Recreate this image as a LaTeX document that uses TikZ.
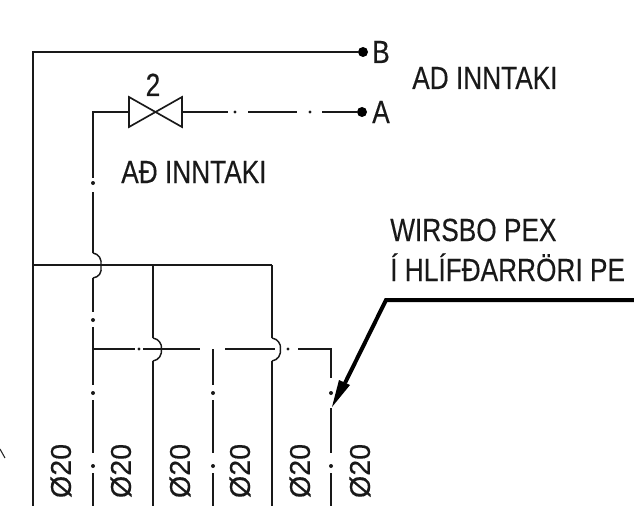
\documentclass[tikz,border=0pt]{standalone}
\usepackage{fontspec}
\usepackage{graphicx}
\setmainfont[FakeBold=0.3]{Liberation Sans}
\newcommand{\lbl}[1]{\scalebox{0.82}[1]{#1}}
\tikzset{
  pipe/.style={line width=1.25pt,black!90},
  jump/.style={line width=1.1pt,black!90},
  dotmark/.style={circle,fill=black!90,inner sep=0pt,minimum size=3pt},
  endpt/.style={circle,fill=black,inner sep=0pt,minimum size=7.5pt},
  txt/.style={inner sep=0pt,font=\fontsize{24}{28}\selectfont,text=black!90},
  dia/.style={inner sep=0pt,rotate=90,font=\fontsize{21.5}{24}\selectfont,text=black!90},
  valve/.style={line width=1.25pt,black!90,line join=miter},
  lead/.style={line width=3pt,black}
}
\begin{document}
\begin{tikzpicture}[x=0.75pt,y=-0.75pt]
\useasboundingbox (0,0) rectangle (634,506);
% terminals
\node[endpt] (B) at (363,52) {};
\node[endpt] (A) at (362,112) {};
\coordinate (cTL) at (33,53);
\coordinate (cBL) at (33,506);
\draw[pipe] (B) -- (B -| cTL) -- (cBL);
% valve
\coordinate (vL1) at (129,97); \coordinate (vL2) at (129,127);
\coordinate (vR1) at (182,97); \coordinate (vR2) at (182,127);
\coordinate (vLm) at (129,112); \coordinate (vRm) at (182,112);
\draw[valve] (vL1) -- (vR2) -- (vR1) -- (vL2) -- cycle;
% A line
\coordinate (aTop) at (93,112);
\coordinate (a1) at (228,112); \coordinate (a2) at (248,112);
\coordinate (a3) at (297,112); \coordinate (a4) at (322,112);
\draw[pipe] (vLm) -- (aTop) -- (93,178);
\draw[pipe] (vRm) -- (a1) (a2) -- (a3) (a4) -- (A);
\node[dotmark,minimum size=2.5pt] (d1) at (235,112) {};
\node[dotmark,minimum size=2.5pt] (d2) at (310,112) {};
% x=93 vertical
\node[dotmark] (d3) at (93,183) {};
\draw[pipe] (93,192) -- (93,253);
\draw[jump] (93,253) .. controls (99,254) and (102,259) .. (101,266) .. controls (102,273) and (99,277) .. (93,278);
\draw[pipe] (93,278) -- (93,312);
\node[dotmark] (d4) at (93,320) {};
\draw[pipe] (93,327) -- (93,385);
\node[dotmark] (d5) at (93,393) {};
\draw[pipe] (93,400) -- (93,453);
\node[dotmark] (d6) at (93,466) {};
\draw[pipe] (93,473) -- (93,506);
% top solid header
\draw[pipe] (33,265) -- (272,265);
% x=153 vertical
\draw[pipe] (153,265) -- (153,338);
\draw[jump] (153,338) .. controls (159,339) and (162,344) .. (161.5,349) .. controls (162,355) and (159,360) .. (153,361);
\draw[pipe] (153,361) -- (153,506);
% x=272 vertical
\draw[pipe] (272,265) -- (272,338);
\draw[jump] (272,338) .. controls (278,339) and (281,344) .. (280.5,349) .. controls (281,355) and (278,360) .. (272,361);
\draw[pipe] (272,361) -- (272,506);
% dash-dot header
\draw[pipe] (93,349) -- (135,349) (143,349) -- (200,349) (225,349) -- (275,349) (298,349) -- (331,349) -- (331,378);
\node[dotmark,minimum size=2.5pt] (d7) at (139,349) {};
\node[dotmark,minimum size=2.5pt] (d8) at (288,349) {};
% x=213
\draw[pipe] (213,349) -- (213,385);
\node[dotmark] (d9) at (213,393) {};
\draw[pipe] (213,400) -- (213,453);
\node[dotmark] (d10) at (213,466) {};
\draw[pipe] (213,473) -- (213,506);
% x=331
\node[dotmark] (d11) at (331,393) {};
\draw[pipe] (331,408) -- (331,453);
\node[dotmark] (d12) at (331,466) {};
\draw[pipe] (331,473) -- (331,506);
% leader
\coordinate (l1) at (634,300);
\coordinate (l2) at (386,300);
\coordinate (l3) at (345,383);
\coordinate (tip) at (332,407);
\draw[lead,line join=miter] (l1) -- (l2) -- (l3);
\fill[black] (tip) -- (339,380) -- (350,385) -- cycle;
% stray mark
\draw[line width=0.8pt,black!85] (0,449) -- (5,458);
% labels
\node[txt,anchor=base] (t2) at (153,96) {\lbl{2}};
\node[txt,anchor=base] (tB) at (381,63) {\lbl{B}};
\node[txt,anchor=base] (tA) at (381,123) {\lbl{A}};
\node[txt,anchor=base west] (t1) at (412,89) {\lbl{AD INNTAKI}};
\node[txt,anchor=base west] (t3) at (121,183) {\lbl{AÐ INNTAKI}};
\node[txt,anchor=base west] (t4) at (390,241) {\lbl{WIRSBO PEX}};
\node[txt,anchor=base west] (t5) at (390,281) {\lbl{Í HLÍFÐARRÖRI PE}};
\node[dia] (z1) at (61,471) {Ø20};
\node[dia] (z2) at (121,471) {Ø20};
\node[dia] (z3) at (180,471) {Ø20};
\node[dia] (z4) at (240,471) {Ø20};
\node[dia] (z5) at (300,471) {Ø20};
\node[dia] (z6) at (360,471) {Ø20};
\end{tikzpicture}
\end{document}
